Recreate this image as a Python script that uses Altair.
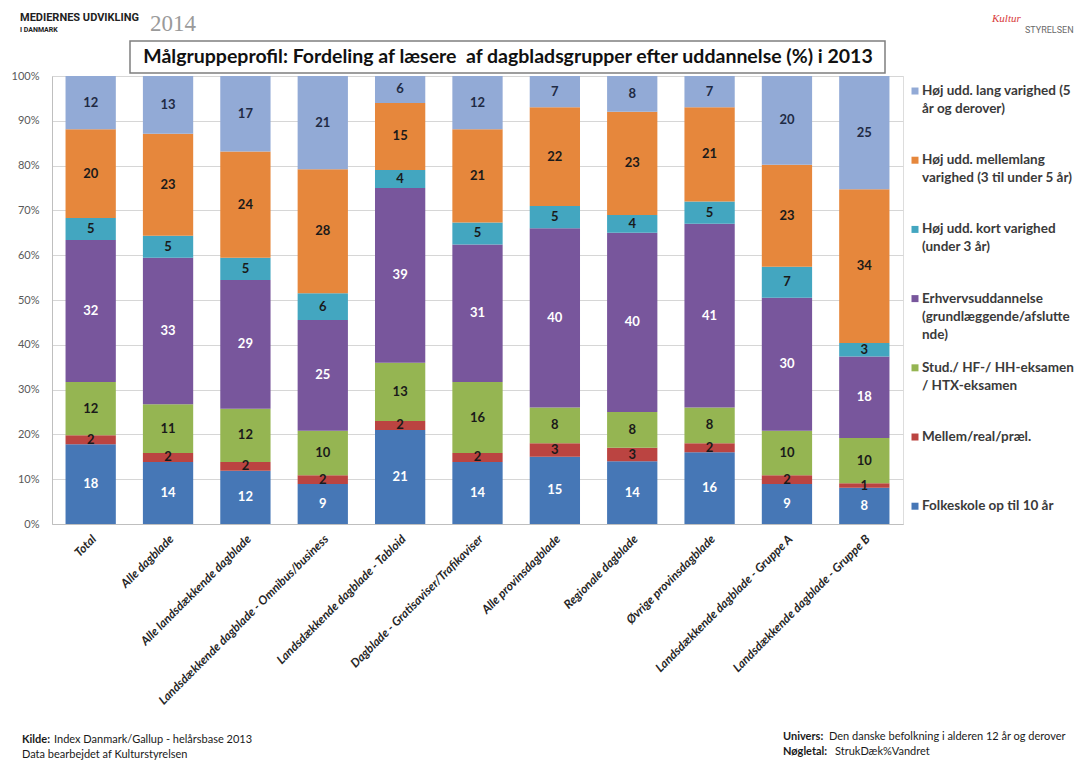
import altair as alt
import pandas as pd

groups = [
    "Total",
    "Alle dagblade",
    "Alle landsdækkende dagblade",
    "Landsdækkende dagblade - Omnibus/business",
    "Landsdækkende dagblade - Tabloid",
    "Dagblade - Gratisaviser/Trafikaviser",
    "Alle provinsdagblade",
    "Regionale dagblade",
    "Øvrige provinsdagblade",
    "Landsdækkende dagblade - Gruppe A",
    "Landsdækkende dagblade - Gruppe B",
]

# stack order: bottom -> top
categories = [
    "Folkeskole op til 10 år",
    "Mellem/real/præl.",
    "Stud./ HF-/ HH-eksamen / HTX-eksamen",
    "Erhvervsuddannelse (grundlæggende/afsluttende)",
    "Høj udd. kort varighed (under 3 år)",
    "Høj udd. mellemlang varighed (3 til under 5 år)",
    "Høj udd. lang varighed (5 år og derover)",
]

legend_labels = [
    "Folkeskole op til 10 år",
    "Mellem/real/præl.",
    "Stud./ HF-/ HH-eksamen|/ HTX-eksamen",
    "Erhvervsuddannelse|(grundlæggende/afslutte|nde)",
    "Høj udd. kort varighed|(under 3 år)",
    "Høj udd. mellemlang|varighed (3 til under 5 år)",
    "Høj udd. lang varighed (5|år og derover)",
]

folkeskole = [18, 14, 12, 9, 21, 14, 15, 14, 16, 9, 8]
mellem = [2, 2, 2, 2, 2, 2, 3, 3, 2, 2, 1]
stud = [12, 11, 12, 10, 13, 16, 8, 8, 8, 10, 10]
erhverv = [32, 33, 29, 25, 39, 31, 40, 40, 41, 30, 18]
kort = [5, 5, 5, 6, 4, 5, 5, 4, 5, 7, 3]
mellemlang = [20, 23, 24, 28, 15, 21, 22, 23, 21, 23, 34]
lang = [12, 13, 17, 21, 6, 12, 7, 8, 7, 20, 25]

series = [folkeskole, mellem, stud, erhverv, kort, mellemlang, lang]

colors = ["#4677B6", "#BB4441", "#95B552", "#78569C", "#43A6C0", "#E6873C", "#92AAD6"]

rows = []
for o, (cat, vals) in enumerate(zip(categories, series)):
    for g, v in zip(groups, vals):
        rows.append({"group": g, "cat": cat, "v": v, "o": o})
df = pd.DataFrame(rows)

leg_rows = []
n = len(categories)
for o, (cat, lab) in enumerate(zip(categories, legend_labels)):
    leg_rows.append({"cat": cat, "label": lab, "i": n - 1 - o})
legdf = pd.DataFrame(leg_rows)

FONT = "Lato"
W, H = 851, 448

color_scale = alt.Scale(domain=categories, range=colors)
xscale = alt.Scale(paddingInner=0.35, paddingOuter=0.175)

bars = alt.Chart(df).mark_bar().encode(
    x=alt.X("group:N", sort=groups, scale=xscale,
            axis=alt.Axis(title=None, labelAngle=-45, labelAlign="right", labelBaseline="top",
                          labelFontStyle="italic", labelFontWeight="bold", labelFontSize=12,
                          labelFont=FONT, labelColor="#262626", labelPadding=9,
                          labelLimit=400, ticks=False, domainColor="#BFBFBF")),
    y=alt.Y("v:Q", stack="normalize", scale=alt.Scale(domain=[0, 1]),
            axis=alt.Axis(title=None, format=".0%", values=[i / 10 for i in range(11)],
                          labelFontSize=11, labelFont=FONT, labelColor="#595959",
                          labelPadding=13, ticks=False, domainColor="#BFBFBF",
                          gridColor="#D6D6D6")),
    color=alt.Color("cat:N", scale=color_scale, legend=None),
    order=alt.Order("o:Q", sort="ascending"),
)

labels = alt.Chart(df).transform_joinaggregate(
    total="sum(v)", groupby=["group"]
).transform_window(
    cum="sum(v)", groupby=["group"], sort=[alt.SortField("o")], frame=[None, 0]
).transform_calculate(
    mid="(datum.cum - datum.v / 2) / datum.total",
    lc="(datum.o == 0 || datum.o == 3) ? '#FFFFFF' : (datum.o == 6 ? '#1F2A44' : '#1A1A1A')",
).mark_text(font=FONT, fontSize=13, fontWeight="bold", baseline="middle").encode(
    x=alt.X("group:N", sort=groups, scale=xscale, axis=None),
    y=alt.Y("mid:Q", scale=alt.Scale(domain=[0, 1]), axis=None),
    text=alt.Text("v:Q"),
    color=alt.Color("lc:N", scale=None),
)

leg_y = alt.Y("i:Q", scale=alt.Scale(domain=[-0.217, 6.257], reverse=True), axis=None)
leg_sq = alt.Chart(legdf).mark_square(size=49, opacity=1).encode(
    x=alt.value(863), y=leg_y,
    color=alt.Color("cat:N", scale=color_scale, legend=None),
)
leg_tx = alt.Chart(legdf).mark_text(
    align="left", baseline="middle", lineBreak="|", lineHeight=18,
    font=FONT, fontSize=13.5, fontWeight="bold", color="#3A3A3A",
).encode(x=alt.value(870), y=leg_y, text="label:N")

one = alt.Data(values=[{}])


def txt(s, x, y, **kw):
    base = dict(font=FONT, fontSize=11, align="left", baseline="middle", color="#1A1A1A")
    base.update(kw)
    return alt.Chart(one).mark_text(**base).encode(
        x=alt.value(x), y=alt.value(y), text=alt.value(s))


title_box = alt.Chart(one).mark_rect(fill="white", stroke="#7F7F7F", strokeWidth=1.5).encode(
    x=alt.value(78), x2=alt.value(833), y=alt.value(-35), y2=alt.value(-3))

deco = [
    title_box,
    txt("Målgruppeprofil: Fordeling af læsere\u00a0 af dagbladsgrupper efter uddannelse (%) i 2013",
        456, -19, fontSize=19.5, fontWeight="bold", align="center", color="#111111"),
    txt("MEDIERNES UDVIKLING", -32, -58, font="Roboto", fontSize=11,
        fontWeight="bold", color="#222222"),
    txt("I DANMARK", -32, -46, font="Roboto", fontSize=7,
        fontWeight="bold", color="#222222"),
    txt("2014", 98, -52, font="Liberation Serif", fontSize=23, color="#9A9A9A"),
    txt("Kultur", 940, -57, font="Liberation Serif", fontSize=11, fontStyle="italic",
        color="#D83A3A"),
    txt("STYRELSEN", 973, -46, font="Roboto", fontSize=9, color="#6A6A6A"),
    txt("Kilde:", -30, 664, fontWeight="bold"),
    txt("Index Danmark/Gallup - helårsbase 2013", 2, 664),
    txt("Data bearbejdet af Kulturstyrelsen", -30, 679),
    txt("Univers:", 731, 661, fontWeight="bold"),
    txt("Den danske befolkning i alderen 12 år og derover", 777, 661),
    txt("Nøgletal:", 731, 676, fontWeight="bold"),
    txt("StrukDæk%Vandret", 783, 676),
]

chart = alt.layer(bars, labels, leg_sq, leg_tx, *deco).resolve_scale(
    y="independent", x="independent"
).properties(
    width=W, height=H,
    autosize=alt.AutoSizeParams(type="none"),
    padding={"left": 52, "top": 76, "right": 182, "bottom": 236},
).configure_view(stroke="#BFBFBF").configure(background="white")

chart.save("out.html", embed_options={"renderer": "svg", "actions": False})
